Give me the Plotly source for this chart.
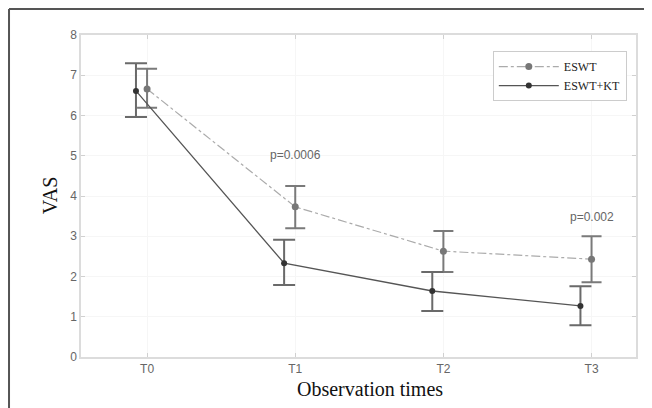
import plotly.graph_objects as go

times = ["T0", "T1", "T2", "T3"]
x_pos = [0, 1, 2, 3]
kt_offset = -0.075

eswt_mean = [6.66, 3.73, 2.63, 2.43]
eswt_upper = [7.16, 4.25, 3.13, 3.00]
eswt_lower = [6.19, 3.20, 2.11, 1.86]

kt_mean = [6.61, 2.33, 1.64, 1.27]
kt_upper = [7.30, 2.91, 2.11, 1.76]
kt_lower = [5.96, 1.79, 1.14, 0.79]

pvals = [("p=0.0006", 1, 5.02), ("p=0.002", 3, 3.48)]

fig = go.Figure()

fig.add_trace(go.Scatter(
    x=x_pos, y=eswt_mean, name="ESWT", mode="lines+markers",
    line=dict(color="#ababab", width=1.2, dash="dashdot"),
    marker=dict(color="#777777", size=7),
    error_y=dict(type="data", symmetric=False,
                 array=[u - m for u, m in zip(eswt_upper, eswt_mean)],
                 arrayminus=[m - l for m, l in zip(eswt_mean, eswt_lower)],
                 color="#7a7a7a", thickness=2, width=10),
))
fig.add_trace(go.Scatter(
    x=[x + kt_offset for x in x_pos], y=kt_mean, name="ESWT+KT", mode="lines+markers",
    line=dict(color="#555555", width=1.3),
    marker=dict(color="#333333", size=6),
    error_y=dict(type="data", symmetric=False,
                 array=[u - m for u, m in zip(kt_upper, kt_mean)],
                 arrayminus=[m - l for m, l in zip(kt_mean, kt_lower)],
                 color="#6a6a6a", thickness=2, width=11),
))

for txt, xv, yv in pvals:
    fig.add_annotation(x=xv, y=yv, text=txt, showarrow=False,
                       font=dict(family="Liberation Sans, Arial", size=12, color="#666666"))

fig.add_annotation(xref="paper", yref="paper", x=0.52, y=-0.099, yanchor="middle",
                   text="Observation times", showarrow=False,
                   font=dict(family="Liberation Serif, Times New Roman", size=20, color="#111111"))
fig.add_annotation(xref="paper", yref="paper", x=-0.079, y=0.5, textangle=-90,
                   text="VAS", showarrow=False,
                   font=dict(family="Liberation Serif, Times New Roman", size=20, color="#111111"))

# outer frame (left and top edges)
fig.add_shape(type="line", xref="paper", yref="paper", x0=-0.1297, x1=-0.1297, y0=-0.25, y1=1.0807,
              line=dict(color="#555555", width=2))
fig.add_shape(type="line", xref="paper", yref="paper", x0=-0.1297, x1=1.1, y0=1.0807, y1=1.0807,
              line=dict(color="#555555", width=2))

axis_common = dict(showline=True, linecolor="#dcdcdc", linewidth=1.5, mirror="ticks",
                   ticks="inside", ticklen=4, tickcolor="#d0d0d0",
                   showgrid=True, gridcolor="#f6f6f6", zeroline=False,
                   tickfont=dict(family="Liberation Sans, Arial", size=12, color="#666666"))

fig.update_xaxes(range=[-0.446, 3.30], tickvals=x_pos, ticktext=times, **axis_common)
fig.update_yaxes(range=[0, 8], tickvals=list(range(9)), **axis_common)

# the page adds an 8px body margin, so margins are reduced by 8px on top/left
fig.update_layout(
    width=652, height=408,
    margin=dict(l=73, r=24, t=27, b=59),
    paper_bgcolor="white", plot_bgcolor="white",
    showlegend=True,
    legend=dict(x=0.742, y=0.95, xanchor="left", yanchor="top",
                bgcolor="white", bordercolor="#cccccc", borderwidth=1,
                font=dict(family="Liberation Serif, Times New Roman", size=12, color="#222222"),
                itemwidth=60, tracegroupgap=0),
)

fig.write_html("out.html")
